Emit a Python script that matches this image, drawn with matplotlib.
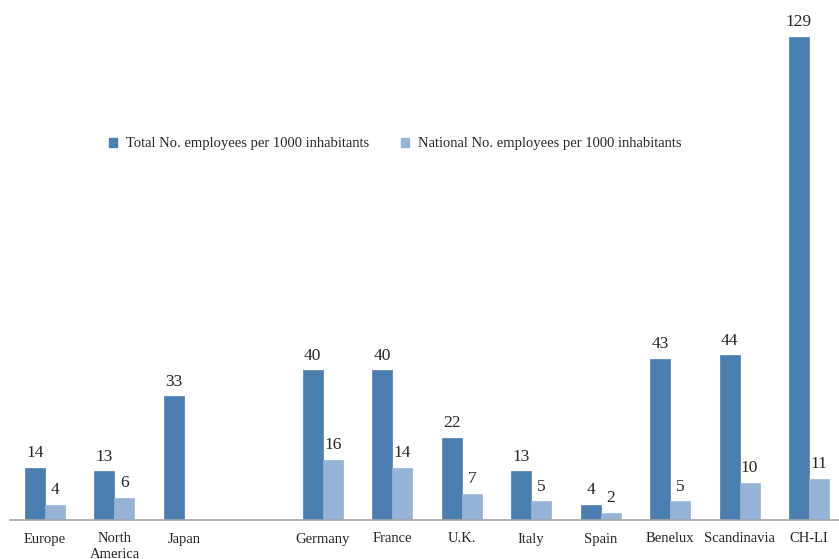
import matplotlib
matplotlib.use("Agg")
import matplotlib.pyplot as plt
import numpy as np
from matplotlib.patches import Patch

categories = ["Europe", "North\nAmerica", "Japan", "", "Germany", "France", "U.K.",
              "Italy", "Spain", "Benelux", "Scandinavia", "CH-LI"]
total = [14, 13, 33, None, 40, 40, 22, 13, 4, 43, 44, 129]
national = [4, 6, None, None, 16, 14, 7, 5, 2, 5, 10, 11]
series_names = ["Total No. employees per 1000 inhabitants",
                "National No. employees per 1000 inhabitants"]

plt.rcParams['font.family'] = ['Liberation Serif', 'DejaVu Serif']
dark = "#4A7EB1"
light = "#95B3D7"

W, H = 839, 559
fig = plt.figure(figsize=(W / 100, H / 100), dpi=100)
step = 69.45
left_px = 45 - step / 2
ax = fig.add_axes([left_px / W, 39 / H, step * 12 / W, (H - 39) / H])

x = np.arange(len(categories))
bw = 20 / step
for i in range(len(categories)):
    if total[i] is not None:
        ax.bar(x[i] - bw / 2, total[i], width=bw, color=dark, edgecolor=dark, linewidth=0.5)
        ax.text(x[i] - bw / 2, total[i] + 1.8, str(total[i]), ha="center", va="bottom",
                fontsize=12.5, color="#262626")
    if national[i] is not None:
        ax.bar(x[i] + bw / 2, national[i], width=bw, color=light, edgecolor=light, linewidth=0.5)
        ax.text(x[i] + bw / 2, national[i] + 1.8, str(national[i]), ha="center", va="bottom",
                fontsize=12.5, color="#262626")

ax.set_xlim(-0.5, len(categories) - 0.5)
ax.set_ylim(0, 520 / 3.744)
ax.set_xticks(x)
ax.set_xticklabels(categories, fontsize=10.5, color="#262626", linespacing=1.25)
ax.tick_params(axis="x", length=0, pad=9)
ax.set_yticks([])
for s in ["top", "right", "left"]:
    ax.spines[s].set_visible(False)
ax.spines["bottom"].set_color("#A6A6A6")
ax.spines["bottom"].set_linewidth(1.2)

handles = [Patch(facecolor=dark, edgecolor=dark), Patch(facecolor=light, edgecolor=light)]
fig.legend(handles, series_names, loc="center left", bbox_to_anchor=(96 / W, 1 - 144 / H),
           ncol=2, frameon=False, fontsize=10.5, handlelength=0.55, handleheight=0.55,
           handletextpad=0.6, columnspacing=2.2, labelcolor="#262626")

fig.savefig("out.png", dpi=100)
